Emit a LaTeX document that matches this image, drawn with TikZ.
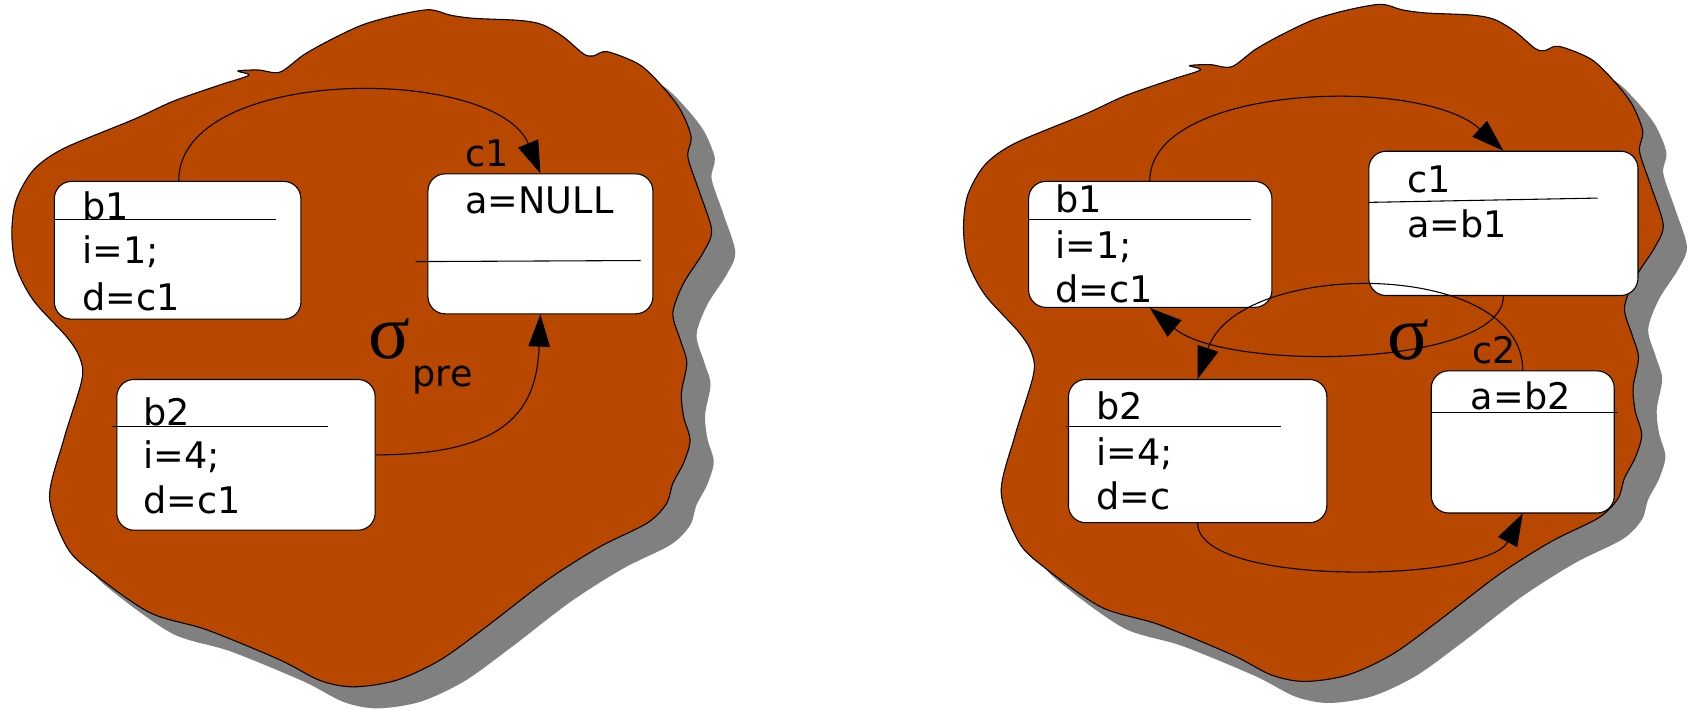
\documentclass[tikz,border=0pt]{standalone}
\usepackage{fontspec}
\setmainfont{DejaVu Sans}
\newfontfamily\sigfont{Liberation Serif}
\usetikzlibrary{arrows.meta,calc}
\definecolor{rust}{RGB}{184,71,0}
\definecolor{shade}{RGB}{128,128,128}
\newcommand\blobShape[1]{\path[#1] plot[smooth cycle,tension=0.5] coordinates {(11,216) (15,186) (31,158) (59,138) (124,111) (161,94) (204,79) (231,70) (221,66) (240,65) (260,67) (282,51) (307,37) (337,23) (369,14) (399,9) (418,14) (440,17) (483,19) (504,23) (523,34) (542,50) (551,52) (564,48) (594,60) (615,80) (632,102) (642,127) (639,146) (650,179) (661,214) (653,235) (635,263) (625,291) (632,316) (638,337) (633,365) (635,387) (641,409) (635,430) (625,449) (619,468) (601,486) (557,508) (508,539) (452,582) (409,613) (368,632) (328,638) (297,632) (260,613) (192,585) (139,569) (86,532) (62,508) (46,462) (59,409) (76,353) (74,332) (62,313) (31,279) (15,248)};}
\begin{document}
\begin{tikzpicture}[x=0.5pt,y=-0.5pt,
  box/.style={draw=black,fill=white,rounded corners=8pt,line width=0.5pt,inner sep=0pt,anchor=north west},
  txt/.style={inner sep=0pt,anchor=base west,font=\fontsize{17}{20}\selectfont},
  sig/.style={inner sep=0pt,font=\sigfont\fontsize{36}{36}\selectfont},
  div/.style={line width=0.5pt},
  arr/.style={line width=0.5pt,-{Triangle[length=15pt,width=10pt]}}]
\useasboundingbox (0,0) rectangle (1568,659);
% shadows and blobs
\blobShape{fill=shade,shift={(22,20)}}
\blobShape{fill=shade,shift={(906,15)}}
\blobShape{fill=rust,draw=black,line width=0.5pt}
\blobShape{fill=rust,draw=black,line width=0.5pt,shift={(884,-5)}}
% ---------- left panel ----------
\node[box,minimum width=114.5pt,minimum height=64pt] (b1L) at (50,168) {};
\node[box,minimum width=104.5pt,minimum height=65pt] (c1L) at (397,161) {};
\node[box,minimum width=120pt,minimum height=70pt] (b2L) at (108,352) {};
\draw[div] (50,204) -- (256,204);
\draw[div] (386,243) -- (595,242);
\draw[div] (104,396) -- (305,396);
\node[txt] (tb1L) at (76,204) {b1};
\node[txt] (ti1L) at (76,245) {i=1;};
\node[txt] (td1L) at (76,288) {d=c1};
\node[txt] (tc1L) at (432,155) {c1};
\node[txt] (ta1L) at (432,198) {a=NULL};
\node[txt] (tb2L) at (133,395) {b2};
\node[txt] (ti2L) at (133,435) {i=4;};
\node[txt] (td2L) at (133,477) {d=c1};
\node[sig] (sigL) at (362,315) {σ};
\node[txt] (preL) at (383,359) {pre};
\draw[arr] ($(b1L.north west)+(116,0)$) .. controls +(0,-108) and +(-41.5,-101) .. (c1L.north);
\draw[arr] (b2L.east) .. controls +(122,0) and +(-3.5,89) .. (c1L.south);
% ---------- right panel ----------
\node[box,minimum width=113pt,minimum height=58.5pt] (b1R) at (955,168) {};
\node[box,minimum width=125pt,minimum height=67pt] (c1R) at (1271,140) {};
\node[box,minimum width=120pt,minimum height=66.5pt] (b2R) at (992,352) {};
\node[box,minimum width=85pt,minimum height=66pt] (c2R) at (1329,344) {};
\draw[div] (955,204) -- (1162,204);
\draw[div] (1271,188) -- (1484,184);
\draw[div] (990,396) -- (1190,396);
\draw[div] (1329,383) -- (1503,383);
\node[txt] (tc1R) at (1307,179) {c1};
\node[txt] (ta1R) at (1307,221) {a=b1};
\node[txt] (tb1R) at (980,197) {b1};
\node[txt] (ti1R) at (980,240) {i=1;};
\node[txt] (td1R) at (980,281) {d=c1};
\node[txt] (tb2R) at (1018,390) {b2};
\node[txt] (ti2R) at (1018,432) {i=4;};
\node[txt] (td2R) at (1018,473) {d=c};
\node[txt] (ta2R) at (1366,380) {a=b2};
\node[txt] (tc2R) at (1367,338) {c2};
\node[sig] (sigR) at (1308,316) {σ};
\draw[arr] ($(b1R.north west)+(113,0)$) .. controls +(0,-90) and +(-76,-70) .. (c1R.north);
\draw[arr] (c1R.south) .. controls +(0,66) and +(72,60) .. ($(b1R.south west)+(113,0)$);
\draw[arr] (c2R.north) .. controls +(0,-104) and +(38,-112) .. (b2R.north);
\draw[arr] (b2R.south) .. controls +(0,60) and +(-34,64) .. (c2R.south);
\end{tikzpicture}
\end{document}
